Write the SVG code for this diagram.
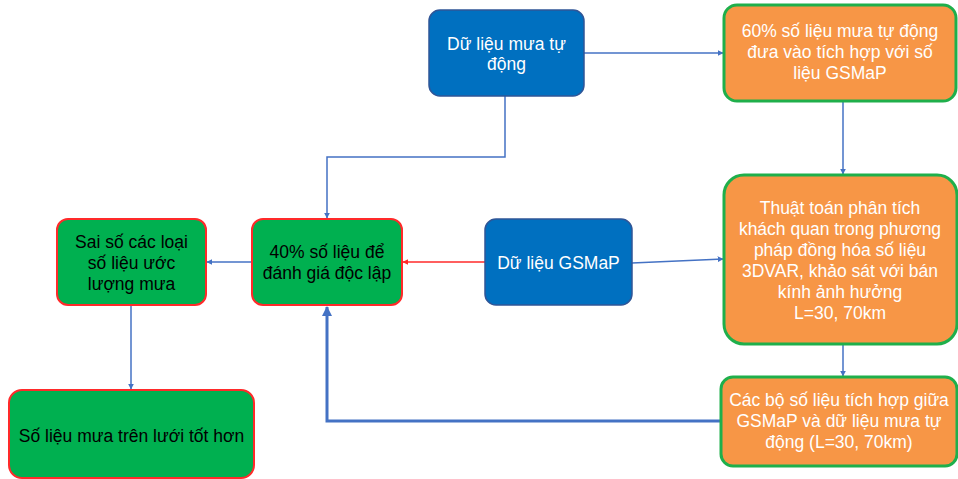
<svg xmlns="http://www.w3.org/2000/svg" width="958" height="479" viewBox="0 0 958 479">
  <defs>
    <style>
      .blue { fill: #0070C0; stroke: #2F5597; stroke-width: 1.5; }
      .orange { fill: #F79646; stroke: #1FAF4B; stroke-width: 3; }
      .green { fill: #00B050; stroke: #FF2A2A; stroke-width: 2; }
      text { font-family: "Liberation Sans", Arial, sans-serif; font-size: 17.5px; text-anchor: middle; }
      .w { fill: #FFFFFF; }
      .k { fill: #000000; }
      .link { fill: none; stroke: #4472C4; stroke-width: 1.5; }
      .thick { fill: none; stroke: #4472C4; stroke-width: 3; }
      .red { fill: none; stroke: #FF2A2A; stroke-width: 1.5; }
    </style>
    <marker id="ah" viewBox="0 0 10 10" refX="9" refY="5" markerWidth="6" markerHeight="6" markerUnits="userSpaceOnUse" orient="auto">
      <path d="M0,0 L10,5 L0,10 z" fill="#4472C4"/>
    </marker>
    <marker id="ahBig" viewBox="0 0 10 10" refX="9" refY="5" markerWidth="10" markerHeight="10" markerUnits="userSpaceOnUse" orient="auto">
      <path d="M0,0 L10,5 L0,10 z" fill="#4472C4"/>
    </marker>
    <marker id="ahRed" viewBox="0 0 10 10" refX="9" refY="5" markerWidth="6" markerHeight="6" markerUnits="userSpaceOnUse" orient="auto">
      <path d="M0,0 L10,5 L0,10 z" fill="#FF2A2A"/>
    </marker>
  </defs>

  <g id="connectors">
    <path class="link" d="M584,53 H723" marker-end="url(#ah)"/>
    <path class="link" d="M505,96 V157 H327 V218" marker-end="url(#ah)"/>
    <path class="link" d="M843,101 V174" marker-end="url(#ah)"/>
    <path class="link" d="M843,344 V376" marker-end="url(#ah)"/>
    <path class="link" d="M632,263 L723,259" marker-end="url(#ah)"/>
    <path class="red" d="M485,262 H403" marker-end="url(#ahRed)"/>
    <path class="link" d="M252,262 H207" marker-end="url(#ah)"/>
    <path class="link" d="M131,305 V389" marker-end="url(#ah)"/>
    <path class="thick" d="M721,421 H327 V307" marker-end="url(#ahBig)"/>
  </g>

  <g id="n-mua-tu-dong">
    <rect class="blue" x="429" y="10" width="155" height="86" rx="11"/>
    <text class="w" x="506.5" y="50">Dữ liệu mưa tự</text>
    <text class="w" x="506.5" y="70">động</text>
  </g>

  <g id="n-60">
    <rect class="orange" x="724" y="5" width="232" height="96" rx="13"/>
    <text class="w" x="840" y="37">60% số liệu mưa tự động</text>
    <text class="w" x="840" y="58">đưa vào tích hợp với số</text>
    <text class="w" x="840" y="79">liệu GSMaP</text>
  </g>

  <g id="n-thuat-toan">
    <rect class="orange" x="724" y="175" width="233" height="169" rx="20"/>
    <text class="w" x="840" y="214">Thuật toán phân tích</text>
    <text class="w" x="840" y="235">khách quan trong phương</text>
    <text class="w" x="840" y="256">pháp đồng hóa số liệu</text>
    <text class="w" x="840" y="277">3DVAR, khảo sát với bán</text>
    <text class="w" x="840" y="298">kính ảnh hưởng</text>
    <text class="w" x="840" y="319">L=30, 70km</text>
  </g>

  <g id="n-cac-bo">
    <rect class="orange" x="721" y="377" width="236" height="89" rx="12"/>
    <text class="w" x="839" y="406">Các bộ số liệu tích hợp giữa</text>
    <text class="w" x="839" y="427">GSMaP và dữ liệu mưa tự</text>
    <text class="w" x="839" y="448">động (L=30, 70km)</text>
  </g>

  <g id="n-gsmap">
    <rect class="blue" x="485" y="219" width="147" height="86" rx="11"/>
    <text class="w" x="558.5" y="269">Dữ liệu GSMaP</text>
  </g>

  <g id="n-40">
    <rect class="green" x="252" y="219" width="150" height="86" rx="11"/>
    <text class="k" x="327" y="258">40% số liệu để</text>
    <text class="k" x="327" y="279">đánh giá độc lập</text>
  </g>

  <g id="n-sai-so">
    <rect class="green" x="57" y="219" width="149" height="86" rx="11"/>
    <text class="k" x="131.5" y="248">Sai số các loại</text>
    <text class="k" x="131.5" y="269">số liệu ước</text>
    <text class="k" x="131.5" y="290">lượng mưa</text>
  </g>

  <g id="n-luoi">
    <rect class="green" x="9" y="390" width="245" height="88" rx="13"/>
    <text class="k" x="131.5" y="442">Số liệu mưa trên lưới tốt hơn</text>
  </g>
</svg>
